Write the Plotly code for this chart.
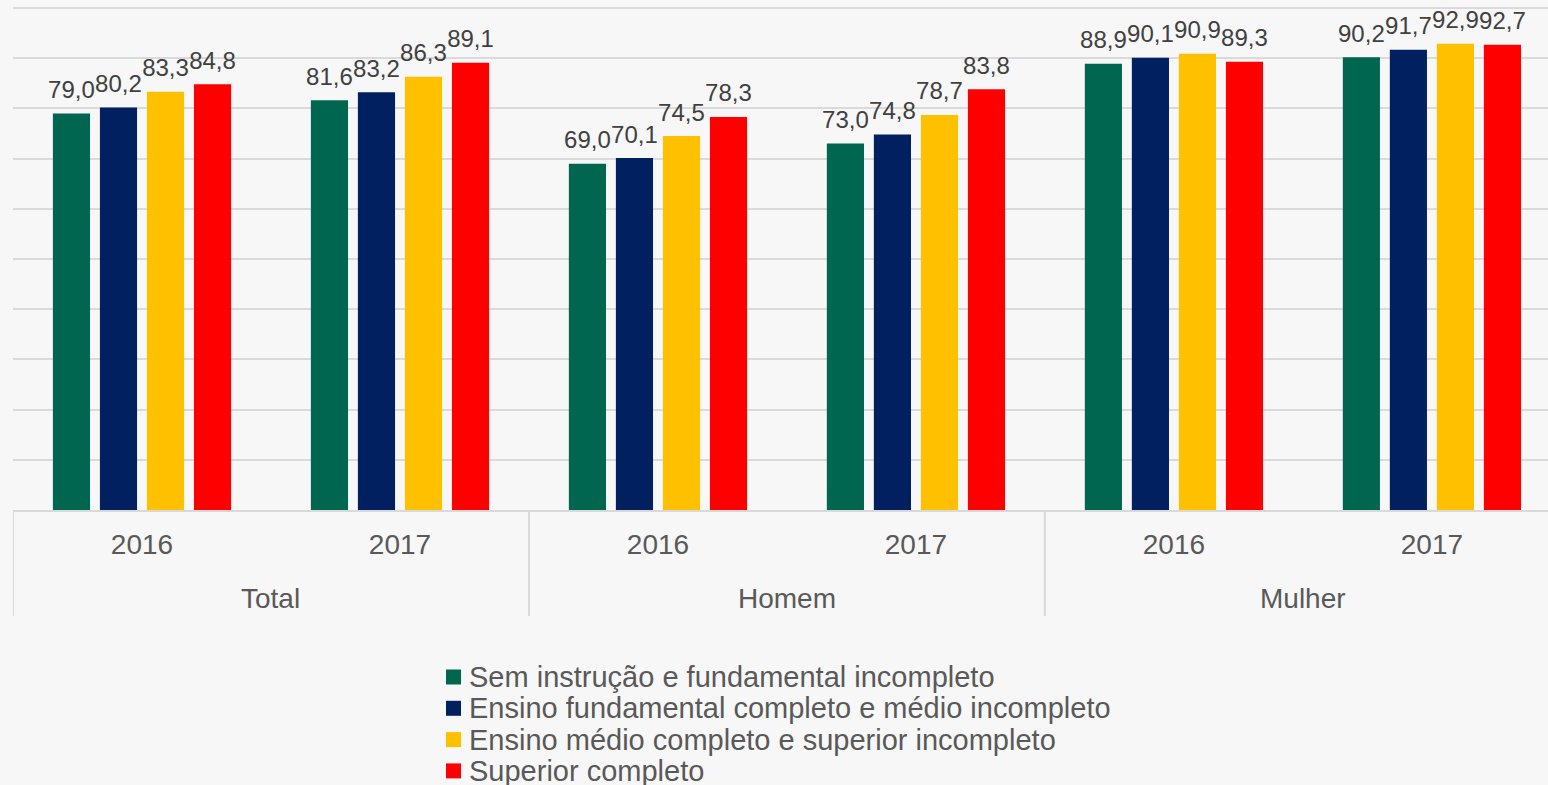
import plotly.graph_objects as go

# ---- data ----
groups = ["Total", "Total", "Homem", "Homem", "Mulher", "Mulher"]
years = ["2016", "2017", "2016", "2017", "2016", "2017"]
series_names = [
    "Sem instrução e fundamental incompleto",
    "Ensino fundamental completo e médio incompleto",
    "Ensino médio completo e superior incompleto",
    "Superior completo",
]
sem_instrucao = [79.0, 81.6, 69.0, 73.0, 88.9, 90.2]
fundamental = [80.2, 83.2, 70.1, 74.8, 90.1, 91.7]
medio = [83.3, 86.3, 74.5, 78.7, 90.9, 92.9]
superior = [84.8, 89.1, 78.3, 83.8, 89.3, 92.7]
colors = ["#00664F", "#002060", "#FFC000", "#FF0000"]

W, H = 1548, 785
ML, MR, MT, MB = 13, 0, 6, 275
PW, PH = W - ML - MR, H - MT - MB

# category positions along the x axis (one slot per year within each group)
xpos = list(range(len(years)))
group_names = list(dict.fromkeys(groups))
group_centers = [sum(i for i, g in enumerate(groups) if g == gn) / groups.count(gn) for gn in group_names]
group_bounds = [-0.5] + [i + 0.5 for i in range(len(groups) - 1) if groups[i] != groups[i + 1]]


def px_x(px):
    return (px - ML) / PW


def px_y(py):
    return (H - MB - py) / PH


fig = go.Figure()
all_series = [sem_instrucao, fundamental, medio, superior]
for name, vals, col in zip(series_names, all_series, colors):
    fig.add_trace(go.Bar(
        x=xpos, y=vals, name=name,
        marker=dict(color=col, line=dict(width=0)),
        showlegend=False, hoverinfo="x+y+name",
    ))
# value labels, grouped like the bars (invisible markers set the label offset)
for name, vals in zip(series_names, all_series):
    fig.add_trace(go.Scatter(
        x=xpos, y=vals, name=name, mode="markers+text",
        marker=dict(size=13.6, opacity=0),
        texttemplate="%{y:.1f}", textposition="top center",
        textfont=dict(size=24, color="#404040", family="Liberation Sans"),
        cliponaxis=False, showlegend=False, hoverinfo="skip",
    ))

shapes, annotations = [], []

# group dividers and group labels (outer category level)
for b in group_bounds:
    shapes.append(dict(type="line", xref="x", yref="paper", x0=b, x1=b,
                       y0=0, y1=px_y(616), line=dict(color="#d9d9d9", width=2)))
for gn, gc in zip(group_names, group_centers):
    annotations.append(dict(xref="x", yref="paper", x=gc, y=px_y(598),
                            xanchor="center", yanchor="middle", showarrow=False,
                            text=gn, font=dict(size=28, color="#595959", family="Liberation Sans")))

# custom legend (rows below the chart)
row0, step = 677, 31.3
for i, (name, col) in enumerate(zip(series_names, colors)):
    cy = row0 + i * step
    shapes.append(dict(type="rect", xref="paper", yref="paper",
                       x0=px_x(446), x1=px_x(461), y0=px_y(cy + 7.5), y1=px_y(cy - 7.5),
                       fillcolor=col, line=dict(width=0)))
    annotations.append(dict(xref="paper", yref="paper", x=px_x(467), y=px_y(cy),
                            xanchor="left", yanchor="middle", showarrow=False,
                            text=name, font=dict(size=29, color="#595959", family="Liberation Sans")))

fig.update_layout(
    width=W, height=H,
    margin=dict(l=ML, r=MR, t=MT, b=MB, pad=0),
    paper_bgcolor="#f7f7f7", plot_bgcolor="#f7f7f7",
    barmode="group", bargap=0.271, bargroupgap=0.21,
    scattermode="group", scattergap=0.271,
    separators=",.",
    font=dict(family="Liberation Sans", color="#595959"),
    showlegend=False,
    shapes=shapes, annotations=annotations,
)
fig.update_yaxes(range=[0, 100.4], tickmode="linear", tick0=0, dtick=10,
                 showticklabels=False, showgrid=True,
                 gridcolor="#dadada", gridwidth=2, zeroline=False, showline=False,
                 ticks="", automargin=False, fixedrange=True)
fig.update_xaxes(range=[-0.5, 5.45], tickmode="array", tickvals=xpos, ticktext=years,
                 showline=True, linecolor="#d9d9d9", linewidth=2,
                 tickfont=dict(size=28, color="#595959", family="Liberation Sans"),
                 ticks="", ticklabelstandoff=8, showgrid=False, zeroline=False,
                 automargin=False, fixedrange=True)

fig.write_html("out.html", config={"displayModeBar": False},
               post_script="document.body.style.margin='0';")
